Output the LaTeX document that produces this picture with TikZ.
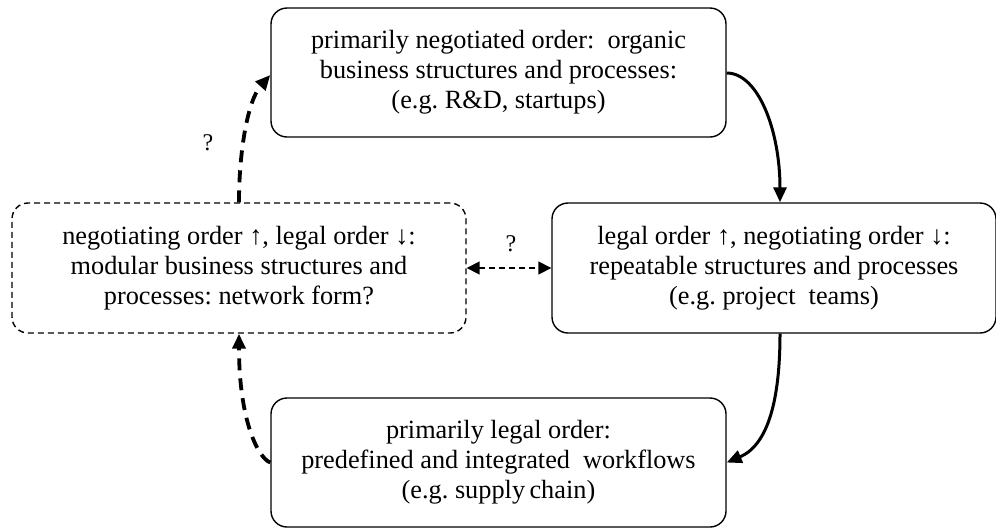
\documentclass[tikz,border=0pt]{standalone}
\usepackage{fontspec}
\setmainfont{Liberation Serif}
\usetikzlibrary{arrows.meta}
\frenchspacing
\begin{document}
\begin{tikzpicture}[x=1pt,y=-1pt,
  box/.style={draw, line width=1.4pt, rounded corners=16pt, align=center,
    font=\fontsize{26.3}{30}\selectfont, inner sep=0pt},
  dbox/.style={box, dash pattern=on 6pt off 4pt},
  solidarrow/.style={line width=3pt, -{Triangle[length=15pt,width=13pt]}},
  dasharrow/.style={line width=3.8pt, dash pattern=on 12pt off 8pt, -{Triangle[length=15pt,width=13pt]}},
  biarrow/.style={line width=1.6pt, dash pattern=on 6pt off 4pt, {Triangle[length=13pt,width=13pt]}-{Triangle[length=13pt,width=13pt]}},
  qlabel/.style={font=\fontsize{24}{28}\selectfont, inner sep=0pt}
]
\useasboundingbox (0,0) rectangle (996,528);
\node[box, minimum width=455pt, minimum height=129pt] (top) at (498.5,72.5)
  {primarily negotiated order:\ \ organic\\business structures and processes:\\(e.g. R\&D, startups)};
\node[box, minimum width=444pt, minimum height=130pt] (right) at (774,268)
  {legal order ↑, negotiating order ↓:\\repeatable structures and processes\\(e.g. project\ \ teams)};
\node[dbox, minimum width=454pt, minimum height=130pt] (left) at (239,268)
  {negotiating order ↑, legal order ↓:\\modular business structures and\\processes: network form?};
\node[box, minimum width=455pt, minimum height=129pt] (bottom) at (498.5,462.5)
  {primarily legal order:\\predefined and integrated\ \ workflows\\(e.g. supply\,chain)};
\coordinate (a1) at (top.east |- 0,73);
\coordinate (a2) at (780,0 |- right.north);
\draw[solidarrow] (a1) .. controls (758,73) and (780,130) .. (a2);
\coordinate (b1) at (780,0 |- right.south);
\draw[solidarrow] (b1) .. controls (780,400) and (768,445) .. (bottom.east);
\coordinate (c1) at (239,0 |- left.north);
\coordinate (c2) at (top.west |- 0,75);
\draw[dasharrow] (c1) .. controls (239,150) and (248,100) .. (c2);
\coordinate (d2) at (239,0 |- left.south);
\draw[dasharrow] (bottom.west) .. controls (258,458) and (239,420) .. (d2);
\draw[biarrow] (left.east) -- (right.west);
\node[qlabel] (q1) at (208,143) {?};
\node[qlabel] (q2) at (511,244) {?};
\end{tikzpicture}
\end{document}
